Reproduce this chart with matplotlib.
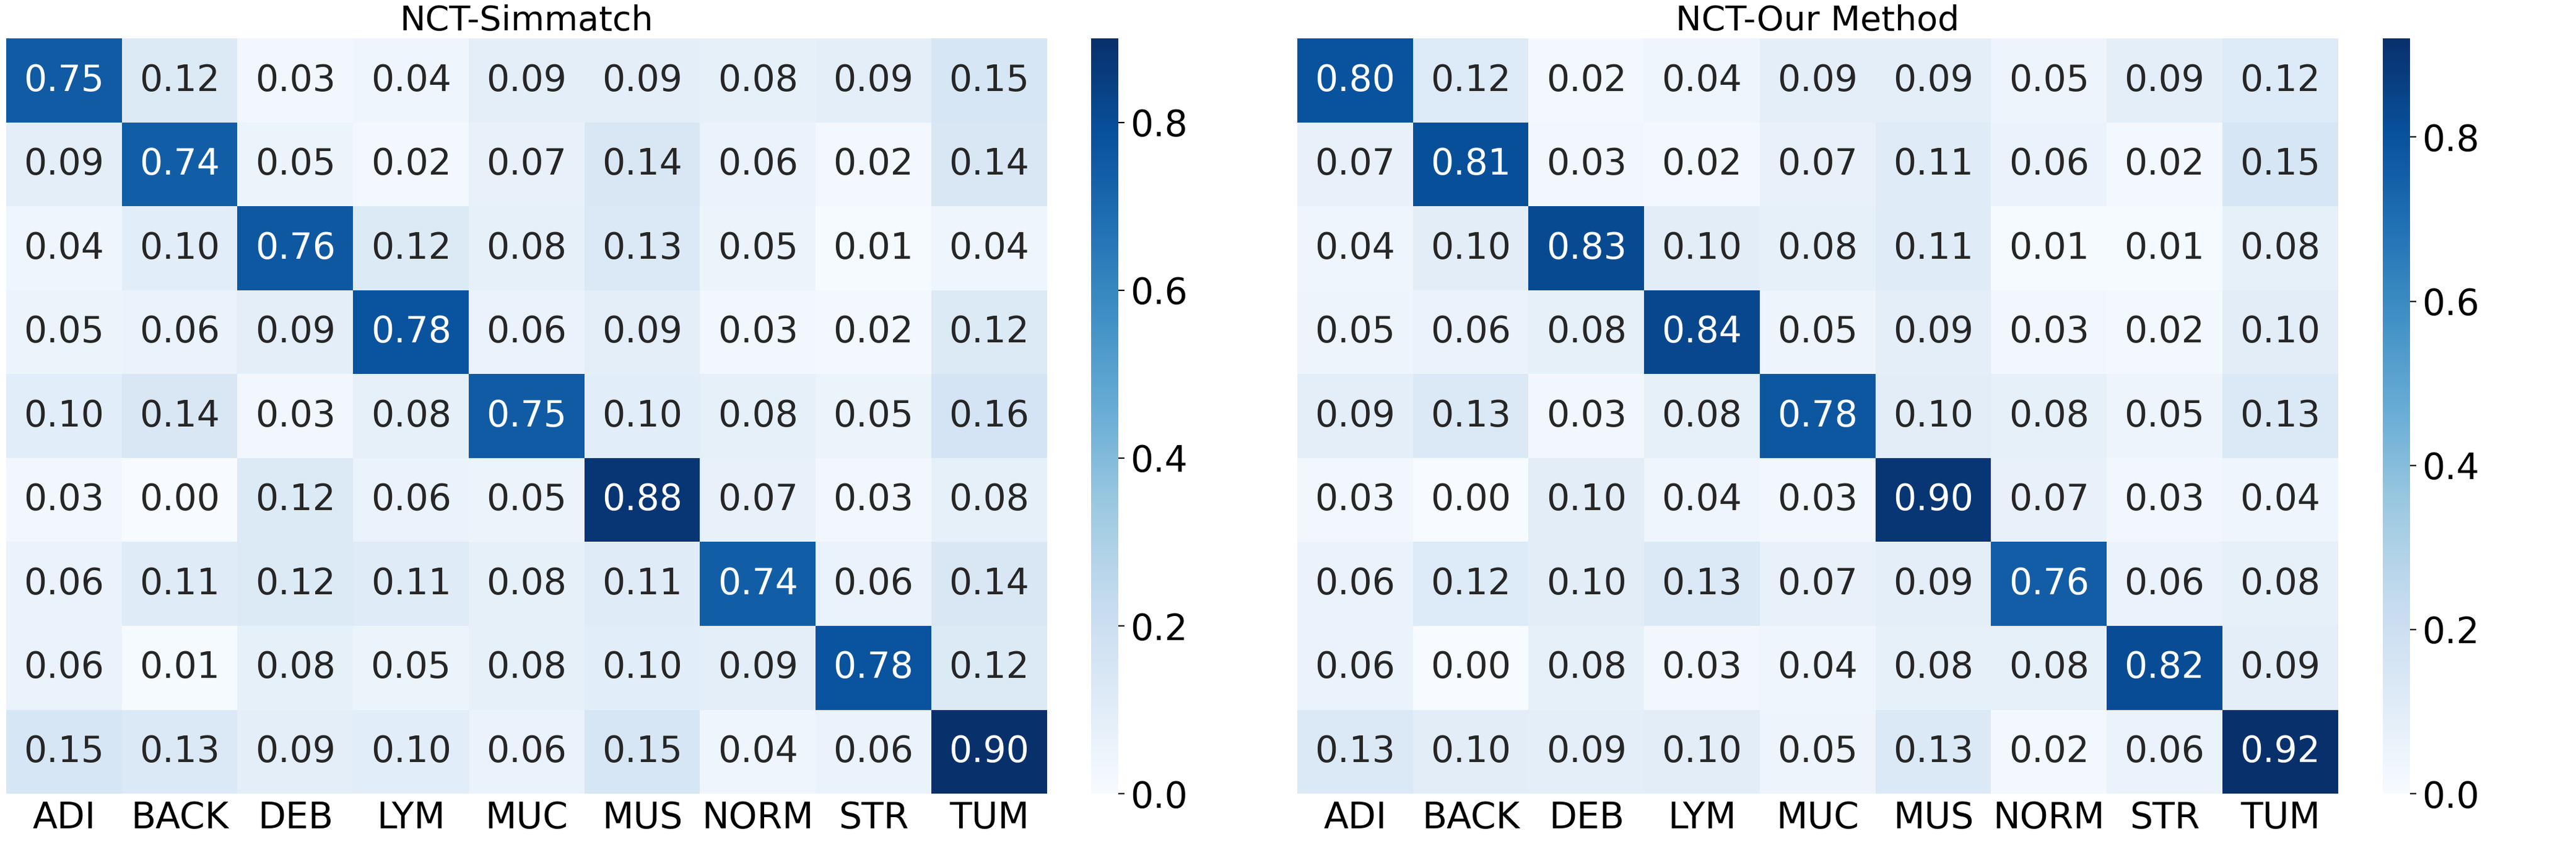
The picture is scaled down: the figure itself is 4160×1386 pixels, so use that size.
import numpy as np
import matplotlib
matplotlib.use("Agg")
import matplotlib.pyplot as plt
import seaborn as sns

labels = ["ADI", "BACK", "DEB", "LYM", "MUC", "MUS", "NORM", "STR", "TUM"]

simmatch = [
    [0.75, 0.12, 0.03, 0.04, 0.09, 0.09, 0.08, 0.09, 0.15],
    [0.09, 0.74, 0.05, 0.02, 0.07, 0.14, 0.06, 0.02, 0.14],
    [0.04, 0.10, 0.76, 0.12, 0.08, 0.13, 0.05, 0.01, 0.04],
    [0.05, 0.06, 0.09, 0.78, 0.06, 0.09, 0.03, 0.02, 0.12],
    [0.10, 0.14, 0.03, 0.08, 0.75, 0.10, 0.08, 0.05, 0.16],
    [0.03, 0.00, 0.12, 0.06, 0.05, 0.88, 0.07, 0.03, 0.08],
    [0.06, 0.11, 0.12, 0.11, 0.08, 0.11, 0.74, 0.06, 0.14],
    [0.06, 0.01, 0.08, 0.05, 0.08, 0.10, 0.09, 0.78, 0.12],
    [0.15, 0.13, 0.09, 0.10, 0.06, 0.15, 0.04, 0.06, 0.90],
]

ours = [
    [0.80, 0.12, 0.02, 0.04, 0.09, 0.09, 0.05, 0.09, 0.12],
    [0.07, 0.81, 0.03, 0.02, 0.07, 0.11, 0.06, 0.02, 0.15],
    [0.04, 0.10, 0.83, 0.10, 0.08, 0.11, 0.01, 0.01, 0.08],
    [0.05, 0.06, 0.08, 0.84, 0.05, 0.09, 0.03, 0.02, 0.10],
    [0.09, 0.13, 0.03, 0.08, 0.78, 0.10, 0.08, 0.05, 0.13],
    [0.03, 0.00, 0.10, 0.04, 0.03, 0.90, 0.07, 0.03, 0.04],
    [0.06, 0.12, 0.10, 0.13, 0.07, 0.09, 0.76, 0.06, 0.08],
    [0.06, 0.00, 0.08, 0.03, 0.04, 0.08, 0.08, 0.82, 0.09],
    [0.13, 0.10, 0.09, 0.10, 0.05, 0.13, 0.02, 0.06, 0.92],
]

fig = plt.figure(figsize=(20.8, 6.93), dpi=200)

panels = [
    ("NCT-Simmatch", simmatch, 0.0024, 0.4236),
    ("NCT-Our Method", ours, 0.5036, 0.9250),
]

for title, data, x0, cx in panels:
    ax = fig.add_axes([x0, 0.075, 0.404, 0.88])
    cax = fig.add_axes([cx, 0.075, 0.0105, 0.88])
    arr = np.array(data)
    sns.heatmap(arr, ax=ax, cbar_ax=cax, cmap="Blues", vmin=0, vmax=arr.max(),
                annot=True, fmt=".2f", annot_kws={"size": 21},
                xticklabels=labels, yticklabels=False)
    ax.set_title(title, fontsize=20, pad=5)
    ax.tick_params(axis="x", labelsize=21, length=0, rotation=0, pad=4)
    cax.tick_params(labelsize=21)
    cax.set_yticks([0, 0.2, 0.4, 0.6, 0.8])

fig.savefig("out.png")
